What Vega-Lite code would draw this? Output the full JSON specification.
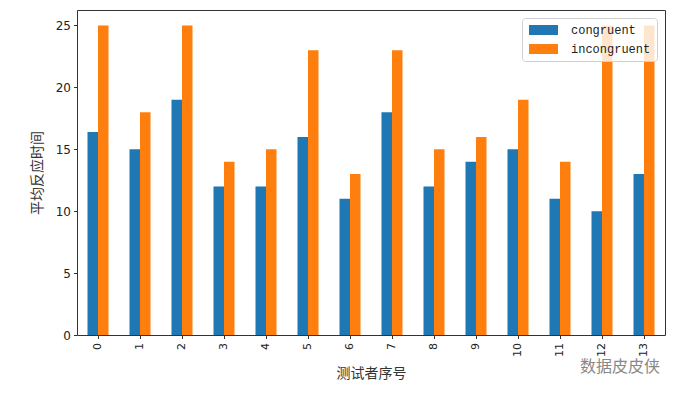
{
  "$schema": "https://vega.github.io/schema/vega-lite/v6.json",
  "width": 588,
  "height": 325,
  "autosize": "none",
  "padding": {"left": 77, "top": 10, "right": 25, "bottom": 62},
  "background": "white",
  "title": {
    "text": "数据皮皮侠",
    "orient": "bottom",
    "anchor": "end",
    "offset": -21,
    "dx": -5,
    "font": "Noto Sans CJK SC",
    "fontSize": 16,
    "fontWeight": "normal",
    "color": "#888"
  },
  "data": {
    "values": [
      {"id": "0", "type": "congruent", "value": 16.4},
      {"id": "0", "type": "incongruent", "value": 25},
      {"id": "1", "type": "congruent", "value": 15},
      {"id": "1", "type": "incongruent", "value": 18},
      {"id": "2", "type": "congruent", "value": 19},
      {"id": "2", "type": "incongruent", "value": 25},
      {"id": "3", "type": "congruent", "value": 12},
      {"id": "3", "type": "incongruent", "value": 14},
      {"id": "4", "type": "congruent", "value": 12},
      {"id": "4", "type": "incongruent", "value": 15},
      {"id": "5", "type": "congruent", "value": 16},
      {"id": "5", "type": "incongruent", "value": 23},
      {"id": "6", "type": "congruent", "value": 11},
      {"id": "6", "type": "incongruent", "value": 13},
      {"id": "7", "type": "congruent", "value": 18},
      {"id": "7", "type": "incongruent", "value": 23},
      {"id": "8", "type": "congruent", "value": 12},
      {"id": "8", "type": "incongruent", "value": 15},
      {"id": "9", "type": "congruent", "value": 14},
      {"id": "9", "type": "incongruent", "value": 16},
      {"id": "10", "type": "congruent", "value": 15},
      {"id": "10", "type": "incongruent", "value": 19},
      {"id": "11", "type": "congruent", "value": 11},
      {"id": "11", "type": "incongruent", "value": 14},
      {"id": "12", "type": "congruent", "value": 10},
      {"id": "12", "type": "incongruent", "value": 25},
      {"id": "13", "type": "congruent", "value": 13},
      {"id": "13", "type": "incongruent", "value": 25}
    ]
  },
  "mark": {"type": "bar"},
  "encoding": {
    "x": {
      "field": "id",
      "type": "nominal",
      "sort": null,
      "scale": {"paddingInner": 0.5, "paddingOuter": 0.25},
      "axis": {
        "title": "测试者序号",
        "labelAngle": -90,
        "labelFont": "DejaVu Sans",
        "labelFontSize": 11,
        "labelColor": "#222",
        "labelPadding": 4,
        "tickColor": "#333",
        "tickSize": 3.5,
        "domain": false,
        "titleFont": "Noto Sans CJK SC",
        "titleFontSize": 14,
        "titleFontWeight": "normal",
        "titleColor": "#333",
        "titlePadding": 10
      }
    },
    "xOffset": {"field": "type", "type": "nominal", "scale": {"paddingInner": 0, "paddingOuter": 0}},
    "y": {
      "field": "value",
      "type": "quantitative",
      "scale": {"domain": [0, 26.25], "nice": false},
      "axis": {
        "title": "平均反应时间",
        "values": [0, 5, 10, 15, 20, 25],
        "grid": false,
        "domain": false,
        "labelFont": "DejaVu Sans",
        "labelFontSize": 12,
        "labelColor": "#222",
        "labelPadding": 3,
        "tickColor": "#333",
        "tickSize": 3.5,
        "titleFont": "Noto Sans CJK SC",
        "titleFontSize": 14,
        "titleFontWeight": "normal",
        "titleColor": "#333",
        "titlePadding": 11
      }
    },
    "color": {
      "field": "type",
      "type": "nominal",
      "scale": {"domain": ["congruent", "incongruent"], "range": ["#1f77b4", "#ff7f0e"]},
      "legend": {
        "title": null,
        "orient": "top-right",
        "offset": 8,
        "padding": 6,
        "rowPadding": 7,
        "fillColor": "rgba(255,255,255,0.8)",
        "strokeColor": "#d0d0d0",
        "cornerRadius": 3,
        "symbolType": "M-1,-1H4.8V1H-1Z",
        "symbolSize": 100,
        "symbolStrokeWidth": 0,
        "labelOffset": 31,
        "labelAlign": "left",
        "labelFont": "Liberation Mono",
        "labelFontSize": 12,
        "labelColor": "#222"
      }
    }
  },
  "config": {
    "view": {"stroke": "#333", "strokeWidth": 1}
  }
}
